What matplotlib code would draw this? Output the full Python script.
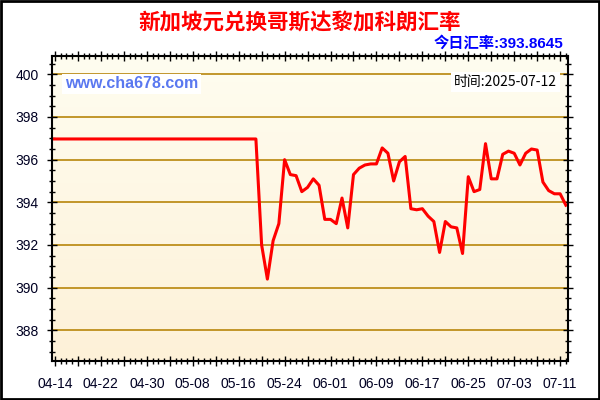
import matplotlib
matplotlib.use("Agg")
import matplotlib.pyplot as plt
import matplotlib.dates as mdates
from matplotlib.patches import Rectangle
import numpy as np
import pandas as pd

# daily rates, 2025-04-13 .. 2025-07-12
start_date = "2025-04-13"
flat_rate = 396.97
n_flat = 37
rates_after = [392.0, 390.4, 392.2, 393.0, 396.0, 395.3, 395.25, 394.5, 394.7,
               395.1, 394.8, 393.2, 393.2, 393.0, 394.2, 392.8, 395.3, 395.6,
               395.75, 395.8, 395.8, 396.55, 396.3, 395.0, 395.9, 396.15, 393.7,
               393.65, 393.7, 393.35, 393.1, 391.65, 393.1, 392.85, 392.8, 391.6,
               395.2, 394.5, 394.6, 396.75, 395.1, 395.1, 396.25, 396.4, 396.3,
               395.75, 396.3, 396.5, 396.45, 394.95, 394.55, 394.4, 394.4, 393.8645]
rates = [flat_rate] * n_flat + rates_after
dates = pd.date_range(start_date, periods=len(rates), freq="D")

title = "新加坡元兑换哥斯达黎加科朗汇率"
today_text = "今日汇率:393.8645"
time_text = "时间:2025-07-12"
site_text = "www.cha678.com"
y_ticks = [388, 390, 392, 394, 396, 398, 400]

cjk = ["Noto Sans CJK SC", "DejaVu Sans"]
latin_cjk = ["Liberation Sans", "Noto Sans CJK SC"]

fig = plt.figure(figsize=(6, 4), dpi=100)
fig.patch.set_facecolor("white")
fig.patches.append(Rectangle((0.001, 0.002), 0.997, 0.995, transform=fig.transFigure,
                             fill=False, edgecolor="black", linewidth=2))

ax = fig.add_axes([52 / 600, 39 / 400, 516 / 600, 305 / 400])

x0 = mdates.date2num(pd.Timestamp(start_date)) + 0.48
x1 = mdates.date2num(pd.Timestamp(start_date)) + 90.37
ax.set_xlim(x0, x1)
ax.set_ylim(386.56, 400.86)

# background gradient
top_c = np.array([255, 253, 240]) / 255
bot_c = np.array([253, 241, 216]) / 255
t = np.linspace(0, 1, 256)[:, None]
grad = (top_c * (1 - t) + bot_c * t)[:, None, :]
ax.imshow(grad, extent=[x0, x1, 386.56, 400.86], aspect="auto", zorder=0,
          origin="upper")

for y in y_ticks:
    ax.axhline(y, color="#b8860b", linewidth=1.2, zorder=1)

ax.plot(dates, rates, color="#ff0000", linewidth=2.2, zorder=3)

major = pd.date_range("2025-04-14", "2025-07-12", freq="4D")
ax.set_xticks(mdates.date2num(major))
ax.set_xticklabels([d.strftime("%m-%d") if i % 2 == 0 else "" for i, d in enumerate(major)])
ax.set_xticks(mdates.date2num(pd.date_range("2025-04-14", "2025-07-12", freq="D")), minor=True)
ax.set_yticks(y_ticks)
ax.set_yticks(np.arange(387, 400.9, 0.5), minor=True)

ax.tick_params(which="major", direction="inout", length=7, width=1, top=True, right=True,
               labelsize=10, pad=4)
ax.tick_params(which="minor", direction="inout", length=4, width=1, top=True, right=True)
for lab in ax.get_xticklabels() + ax.get_yticklabels():
    lab.set_fontfamily("Liberation Sans")
    lab.set_color("#000022")
ax.tick_params(axis="x", pad=8)
ax.tick_params(axis="y", pad=6)
for s in ax.spines.values():
    s.set_linewidth(1.5)
    s.set_zorder(5)

fig.text(0.5, 1 - 23 / 400, title, ha="center", va="center", color="#ff0000",
         fontsize=15.5, fontweight="bold", family=cjk)
fig.text(563 / 600, 1 - 43 / 400, today_text, ha="right", va="center", color="#0000ff",
         fontsize=11, fontweight="bold", family=latin_cjk)
ax.text(65 / 600, 1 - 84 / 400, site_text, transform=fig.transFigure, ha="left", va="center",
        color="#5a78f0", fontsize=11.5, fontweight="bold", family="Liberation Sans",
        bbox=dict(facecolor="white", edgecolor="none", pad=2), zorder=6)
ax.text(557 / 600, 1 - 82 / 400, time_text, transform=fig.transFigure, ha="right", va="center",
        color="black", fontsize=10, family=cjk,
        bbox=dict(facecolor="white", edgecolor="none", pad=2), zorder=6)

fig.savefig("out.png", dpi=100)
